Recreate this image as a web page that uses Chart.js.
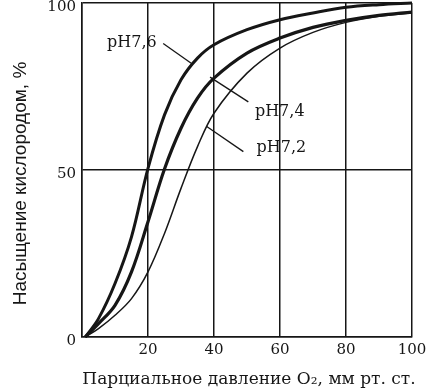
<!DOCTYPE html>
<html><head><meta charset="utf-8">
<script src="https://cdn.jsdelivr.net/npm/chart.js@4.4.0/dist/chart.umd.min.js"></script>
<style>html,body{margin:0;padding:0;background:#fff}#wrap{width:426px;height:391px}</style>
</head><body><div id="wrap"><canvas id="c" width="426" height="391"></canvas></div>
<script>
const pressure = [1, 5, 10, 15, 20, 25, 30, 35, 40, 50, 60, 70, 80, 90, 100];
const ph76 = [0, 5.5, 16, 30, 50.5, 66.5, 77, 83.5, 87.5, 92, 95, 97, 98.7, 99.5, 100];
const ph74 = [0, 4, 9.5, 19.5, 34.5, 50.3, 62.5, 71.5, 77.5, 85, 89.5, 92.7, 94.8, 96.3, 97.3];
const ph72 = [0, 2.5, 6.5, 11.5, 19.5, 31, 44.5, 57, 67, 79, 86.5, 91.2, 94.2, 96, 97];
const seriesLabels = ['pH7,6', 'pH7,4', 'pH7,2'];
const xTicks = [0, 20, 40, 60, 80, 100];
const yTicks = [0, 50, 100];
const xTitle = 'Парциальное давление O₂, мм рт. ст.';
const yTitle = 'Насыщение кислородом, %';

const INK = '#161616';
const toPts = arr => pressure.map((p, i) => ({x: p, y: arr[i]}));

const bg = {
  id: 'bg',
  beforeDraw(chart) {
    const ctx = chart.ctx;
    ctx.save(); ctx.fillStyle = '#fff'; ctx.fillRect(0, 0, chart.width, chart.height); ctx.restore();
  }
};

const annot = {
  id: 'annot',
  afterDatasetsDraw(chart) {
    const {ctx, chartArea: a, scales: {x, y}} = chart;
    const items = [
      {t: seriesLabels[0], tx: 7.6, ty: 86.8, l: [[24.6, 87.9], [33.2, 81.9]]},
      {t: seriesLabels[1], tx: 52.4, ty: 66.3, l: [[38.8, 77.8], [50.4, 70.4]]},
      {t: seriesLabels[2], tx: 52.9, ty: 55.4, l: [[37.8, 63.0], [48.9, 55.5]]}
    ];
    ctx.save();
    ctx.fillStyle = INK; ctx.strokeStyle = INK; ctx.lineWidth = 1.3;
    ctx.font = '16px "DejaVu Serif"';
    ctx.textBaseline = 'alphabetic'; ctx.textAlign = 'left';
    items.forEach(it => {
      ctx.fillText(it.t, x.getPixelForValue(it.tx), y.getPixelForValue(it.ty));
      ctx.beginPath();
      ctx.moveTo(x.getPixelForValue(it.l[0][0]), y.getPixelForValue(it.l[0][1]));
      ctx.lineTo(x.getPixelForValue(it.l[1][0]), y.getPixelForValue(it.l[1][1]));
      ctx.stroke();
    });
    // x title
    ctx.font = '17px "DejaVu Serif"';
    ctx.textAlign = 'center';
    ctx.fillText(xTitle, (a.left + a.right) / 2 + 2, chart.height - 7);
    // y title
    ctx.save();
    ctx.translate(25.5, (a.top + a.bottom) / 2 + 13.5);
    ctx.rotate(-Math.PI / 2);
    ctx.font = '19px "Liberation Sans"';
    ctx.textAlign = 'center';
    ctx.fillText(yTitle, 0, 0);
    ctx.restore();
    ctx.restore();
  }
};

const lineDs = (i, arr, w) => ({
  label: seriesLabels[i], data: toPts(arr), borderColor: INK, borderWidth: w,
  pointRadius: 0, tension: 0.35, fill: false, clip: 4
});

new Chart(document.getElementById('c'), {
  type: 'line',
  data: {
    datasets: [lineDs(0, ph76, 3), lineDs(1, ph74, 3.2), lineDs(2, ph72, 1.5)]
  },
  options: {
    responsive: false,
    animation: false,
    devicePixelRatio: 1,
    layout: {padding: {top: 3, right: 14, left: 0, bottom: 0}},
    plugins: {legend: {display: false}, tooltip: {enabled: false}},
    scales: {
      x: {
        type: 'linear', min: 0, max: 100,
        afterBuildTicks: s => { s.ticks = xTicks.map(v => ({value: v})); },
        afterFit: s => { s.height = 54; s.paddingLeft = 0; s.paddingRight = 0; },
        grid: {color: INK, lineWidth: 1.5, drawTicks: false},
        border: {color: INK, width: 1.5},
        ticks: {
          color: INK, padding: 4, maxRotation: 0,
          font: {family: '"DejaVu Serif"', size: 15},
          callback: v => (v === 0 ? '' : String(v))
        }
      },
      y: {
        type: 'linear', min: 0, max: 100,
        afterBuildTicks: s => { s.ticks = yTicks.map(v => ({value: v})); },
        afterFit: s => { s.width = 82; s.paddingTop = 0; s.paddingBottom = 0; },
        grid: {color: INK, lineWidth: 1.5, drawTicks: false},
        border: {color: INK, width: 1.5},
        ticks: {
          color: INK, padding: 6, labelOffset: 4,
          font: {family: '"DejaVu Serif"', size: 15},
          callback: v => String(v)
        }
      }
    }
  },
  plugins: [bg, annot]
});
</script></body></html>
